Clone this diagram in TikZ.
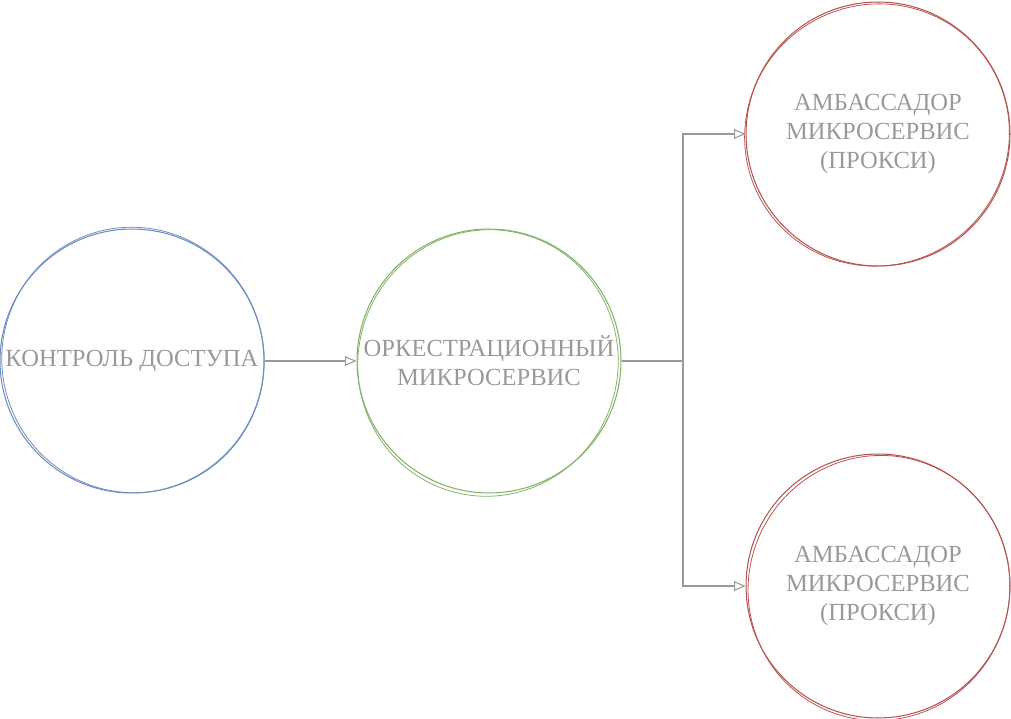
\documentclass[tikz,border=0pt]{standalone}
\usepackage{fontspec}
\setmainfont{Liberation Serif}
\usetikzlibrary{arrows.meta}
\definecolor{ctrlblue}{HTML}{6C8EBF}
\definecolor{orchgreen}{HTML}{82B366}
\definecolor{ambred}{HTML}{B85450}
\definecolor{labelgrey}{HTML}{999999}
\definecolor{linkgrey}{HTML}{9A9A9A}
\tikzset{
    service/.style={circle, draw, line width=0.6pt, minimum size=5.28cm, inner sep=0pt,
        align=center, text=labelgrey, font=\fontsize{14}{16.5}\selectfont},
    sketch/.style={line width=0.45pt},
    link/.style={draw=linkgrey, line width=0.6pt, -{Triangle[open, length=6.5pt, width=5.5pt]}}
}
\begin{document}
\begin{tikzpicture}[x=0.02cm, y=-0.02cm]
    \useasboundingbox (0,0) rectangle (1011,719);
    % Services
    \node[service, draw=ctrlblue] (ctrl) at (132,361) {КОНТРОЛЬ ДОСТУПА};
    \node[service, draw=orchgreen] (orch) at (489,361) {ОРКЕСТРАЦИОННЫЙ\\МИКРОСЕРВИС};
    \node[service, draw=ambred] (ambtop) at (878,134) {АМБАССАДОР\\МИКРОСЕРВИС\\(ПРОКСИ)};
    \node[service, draw=ambred] (ambbot) at (878,586) {АМБАССАДОР\\МИКРОСЕРВИС\\(ПРОКСИ)};

    % Second pencil strokes
    \draw[sketch, ctrlblue] ([shift={(1,-1)}]ctrl.center) ellipse [x radius=2.62cm, y radius=2.66cm, rotate=20];
    \draw[sketch, orchgreen] ([shift={(-1,2)}]orch.center) ellipse [x radius=2.60cm, y radius=2.67cm, rotate=-15];
    \draw[sketch, ambred] ([shift={(-1,1)}]ambtop.center) ellipse [x radius=2.66cm, y radius=2.61cm, rotate=30];
    \draw[sketch, ambred] ([shift={(1,2)}]ambbot.center) ellipse [x radius=2.61cm, y radius=2.66cm, rotate=-25];

    % Links
    \coordinate (split) at (683,361);
    \draw[link] (ctrl.east) -- (orch.west);
    \draw[link] (orch.east) -- (split) |- (ambtop.west);
    \draw[link] (split) |- (ambbot.west);
\end{tikzpicture}
\end{document}
